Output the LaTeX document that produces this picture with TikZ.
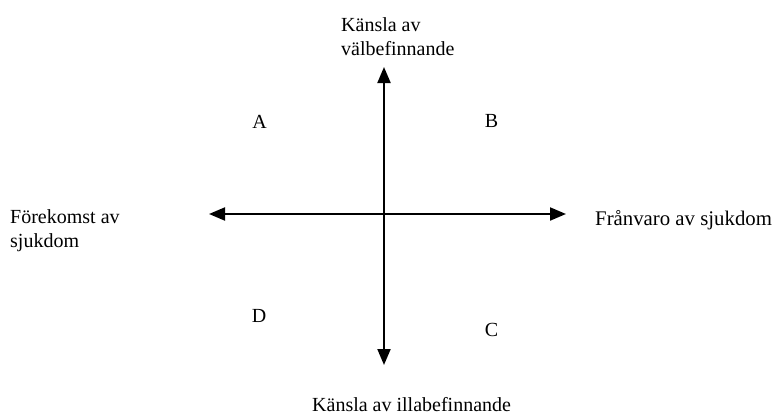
\documentclass[tikz,border=0pt]{standalone}
\usepackage{fontspec}
\setmainfont{Liberation Serif}
\usetikzlibrary{arrows.meta}
\begin{document}
\begin{tikzpicture}[x=1pt,y=-1pt,
  lbl/.style={inner sep=0pt,font=\fontsize{20}{23.5}\selectfont,align=left},
  axis/.style={line width=2pt,{Triangle[length=16pt,width=13pt]}-{Triangle[length=16pt,width=13pt]}}]
\useasboundingbox (0,0) rectangle (776,415);
\coordinate (W) at (209,214);
\coordinate (E) at (566,214);
\coordinate (N) at (384,67);
\coordinate (S) at (384,365);
\draw[axis] (W) -- (E);
\draw[axis] (N) -- (S);
\node[lbl,anchor=base west] (top) at (341,55) {Känsla av\\välbefinnande};
\node[lbl,anchor=base west] (left) at (10,247) {Förekomst av\\sjukdom};
\node[lbl,anchor=base west,font=\fontsize{20.8}{24}\selectfont] (right) at (595,225) {Frånvaro av sjukdom};
\node[lbl,anchor=base west] (bottom) at (312,411) {Känsla av illabefinnande};
\node[lbl] (A) at (259.5,121.5) {A};
\node[lbl] (B) at (491.5,121) {B};
\node[lbl] (C) at (491.5,329.5) {C};
\node[lbl] (D) at (259,315.5) {D};
\end{tikzpicture}
\end{document}
